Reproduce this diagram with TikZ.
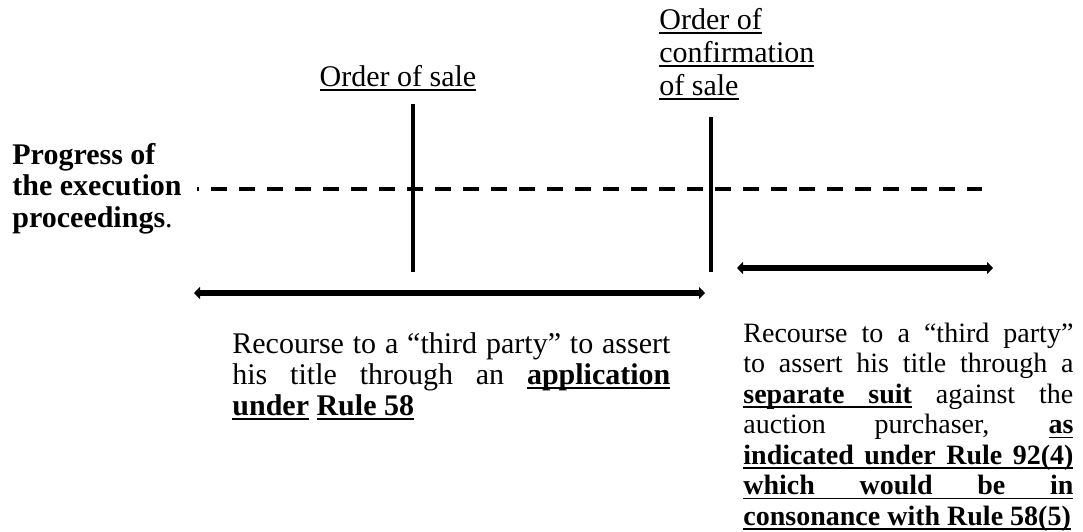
\documentclass[tikz,border=0pt]{standalone}
\usepackage{fontspec}
\setmainfont{Liberation Serif}
\usetikzlibrary{
  positioning,
  arrows.meta
}

% underline at a fixed depth, and an underlined space that stretches like a space
\newsavebox\ulbox
\newcommand{\undl}[1]{\sbox\ulbox{#1}\rlap{\rule[-2.3pt]{\wd\ulbox}{0.7pt}}\usebox\ulbox}
\newcommand{\ulsp}{\leaders\vrule height -1.6pt depth 2.3pt\hskip\fontdimen2\font plus\fontdimen3\font minus\fontdimen4\font}

\begin{document}
\begin{tikzpicture}[x=0.5pt,y=-0.5pt,
    every node/.style={inner sep=0pt,font=\fontsize{15}{15.5}\selectfont},
    cutline/.style={line width=2pt},
    timeline/.style={line width=2pt,dash pattern=on 8pt off 6pt,dash phase=7pt},
    span/.style={line width=3pt,{Triangle[length=3pt,width=6pt]}-{Triangle[length=3pt,width=6pt]}},
    recourse/.style={anchor=base west,align=justify,
      execute at begin node={\hyphenpenalty=10000\tolerance=10000}}]
    \useasboundingbox (0,0) rectangle (1083,531);

    % the two orders
    \node[anchor=base] (sale) at (398,86) {\undl{Order of sale}};
    \node[anchor=base west,align=left,font=\fontsize{15}{16.5}\selectfont] (conf) at (659,95)
      {\undl{Order of}\\\undl{confirmation}\\\undl{of sale}};

    \coordinate (s1) at (413,104);
    \coordinate (s2) at (413,272);
    \coordinate (c1) at (711,117);
    \coordinate (c2) at (711,272);
    \draw[cutline] (s1) -- (s2);
    \draw[cutline] (c1) -- (c2);

    % progress line
    \node[anchor=base west,align=left,font=\fontsize{15}{15.75}\selectfont] (prog) at (12,227)
      {\textbf{Progress of}\\\textbf{the execution}\\\textbf{proceedings}.};
    \coordinate (p1) at (197,189);
    \coordinate (p2) at (982,189);
    \draw[timeline] (p1) -- (p2);

    % periods of recourse
    \coordinate (a1) at (194,293);
    \coordinate (a2) at (705,293);
    \coordinate (b1) at (737,268);
    \coordinate (b2) at (993,268);
    \draw[span] (a1) -- (a2);
    \draw[span] (b1) -- (b2);

    \node[recourse,text width=219pt] (app) at (232,353)
      {Recourse to a “third party” to assert\linebreak
       his title through an \textbf{\undl{application}}\linebreak
       \textbf{\undl{under}} \textbf{\undl{Rule 58}}};
    \node[recourse,text width=165pt,font=\fontsize{14}{15.25}\selectfont] (suit) at (743,342)
      {Recourse to a “third party”\linebreak
       to assert his title through a\linebreak
       \textbf{\undl{separate}\ulsp\undl{suit}} against the\linebreak
       auction purchaser, \textbf{\undl{as}}\linebreak
       \textbf{\undl{indicated}\ulsp\undl{under}\ulsp\undl{Rule}\ulsp\undl{92(4)}}\linebreak
       \textbf{\undl{which}\ulsp\undl{would}\ulsp\undl{be}\ulsp\undl{in}}\linebreak
       \textbf{\undl{consonance}\ulsp\undl{with}\ulsp\undl{Rule}\ulsp\undl{58(5)}}};
\end{tikzpicture}
\end{document}
